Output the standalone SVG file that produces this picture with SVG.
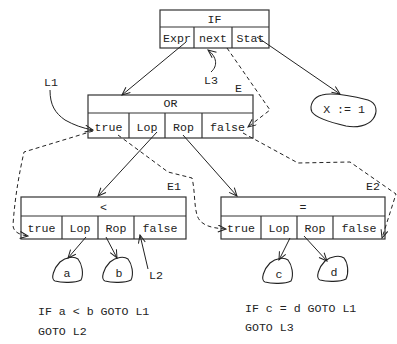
<svg xmlns="http://www.w3.org/2000/svg" width="397" height="344" viewBox="0 0 397 344">
<style>
.box{fill:#fff;stroke:#333;stroke-width:1.2}
.div{stroke:#333;stroke-width:1.2}
.t{font-family:"Liberation Mono","DejaVu Sans Mono",monospace;font-size:11.6px;fill:#222;text-anchor:middle}
.tl{font-family:"Liberation Mono","DejaVu Sans Mono",monospace;font-size:11.6px;fill:#222}
.ln{fill:none;stroke:#222;stroke-width:1}
.ds{fill:none;stroke:#222;stroke-width:1;stroke-dasharray:4 3}
.blob{fill:none;stroke:#222;stroke-width:1.1}
</style>
<defs>
<marker id="ah" markerWidth="10" markerHeight="10" refX="9" refY="4" orient="auto" markerUnits="userSpaceOnUse">
<path d="M1,0.5 L9,4 L1,7.5" fill="none" stroke="#222" stroke-width="1"/>
</marker>
</defs>

<g id="node-if">
<rect class="box" x="160" y="10" width="109" height="38"/>
<line class="div" x1="160" y1="27" x2="269" y2="27"/>
<line class="div" x1="194" y1="27" x2="194" y2="48"/>
<line class="div" x1="232" y1="27" x2="232" y2="48"/>
<text class="t" x="214.5" y="22.5">IF</text>
<text class="t" x="177" y="42">Expr</text>
<text class="t" x="213" y="42">next</text>
<text class="t" x="250.5" y="42">Stat</text>
</g>

<g id="node-or">
<rect class="box" x="88" y="95" width="165" height="43"/>
<line class="div" x1="88" y1="113" x2="253" y2="113"/>
<line class="div" x1="129" y1="113" x2="129" y2="138"/>
<line class="div" x1="165" y1="113" x2="165" y2="138"/>
<line class="div" x1="202" y1="113" x2="202" y2="138"/>
<text class="t" x="170.5" y="107">OR</text>
<text class="t" x="108.5" y="130.5">true</text>
<text class="t" x="147" y="130.5">Lop</text>
<text class="t" x="183.5" y="130.5">Rop</text>
<text class="t" x="227.5" y="130.5">false</text>
<text class="t" x="238.5" y="92">E</text>
</g>

<g id="node-lt">
<rect class="box" x="21" y="197" width="165" height="42"/>
<line class="div" x1="21" y1="216" x2="186" y2="216"/>
<line class="div" x1="62" y1="216" x2="62" y2="239"/>
<line class="div" x1="98" y1="216" x2="98" y2="239"/>
<line class="div" x1="134" y1="216" x2="134" y2="239"/>
<text class="t" x="103.5" y="210.5">&lt;</text>
<text class="t" x="41.5" y="231.5">true</text>
<text class="t" x="80" y="231.5">Lop</text>
<text class="t" x="116" y="231.5">Rop</text>
<text class="t" x="160" y="231.5">false</text>
<text class="t" x="174" y="190">E1</text>
</g>

<g id="node-eq">
<rect class="box" x="221" y="197" width="164" height="42"/>
<line class="div" x1="221" y1="216" x2="385" y2="216"/>
<line class="div" x1="261" y1="216" x2="261" y2="239"/>
<line class="div" x1="297" y1="216" x2="297" y2="239"/>
<line class="div" x1="333" y1="216" x2="333" y2="239"/>
<text class="t" x="303" y="210.5">=</text>
<text class="t" x="241" y="231.5">true</text>
<text class="t" x="279" y="231.5">Lop</text>
<text class="t" x="315" y="231.5">Rop</text>
<text class="t" x="359" y="231.5">false</text>
<text class="t" x="373" y="190">E2</text>
</g>

<g id="node-x">
<path class="blob" d="M322,95 C333,92 352,96 368,100 C377,103 378,112 373,119 C368,126 356,128 346,126 C333,123 316,118 312,112 C309,106 313,97 322,95 Z"/>
<text class="t" x="344" y="113">X := 1</text>
</g>

<g id="node-a">
<path class="blob" d="M60,262 C66,257 74,256 78,259 C82,264 84,274 81,280 C75,283 62,283 55,281 C50,279 54,268 60,262 Z"/>
<text class="t" x="67" y="277">a</text>
</g>
<g id="node-b">
<path class="blob" d="M110,262 C116,257 124,256 128,259 C132,264 134,274 131,280 C125,283 112,283 105,281 C100,279 104,268 110,262 Z"/>
<text class="t" x="119" y="277">b</text>
</g>
<g id="node-c">
<path class="blob" d="M270,263 C276,258 284,257 288,260 C292,265 294,275 291,281 C285,284 272,284 265,282 C260,280 264,269 270,263 Z"/>
<text class="t" x="279" y="278">c</text>
</g>
<g id="node-d">
<path class="blob" d="M325,261 C331,256 340,255 344,258 C348,263 349,273 346,279 C340,282 327,282 320,280 C315,278 319,267 325,261 Z"/>
<text class="t" x="334" y="276">d</text>
</g>

<g id="labels">
<text class="t" x="51" y="86">L1</text>
<text class="t" x="211" y="84">L3</text>
<text class="t" x="156" y="279">L2</text>
<text class="tl" x="38" y="315">IF a &lt; b GOTO L1</text>
<text class="tl" x="38" y="335">GOTO L2</text>
<text class="tl" x="245" y="312">IF c = d GOTO L1</text>
<text class="tl" x="245" y="331">GOTO L3</text>
</g>

<g id="connectors">
<line class="ln" x1="186" y1="42" x2="122" y2="95" marker-end="url(#ah)"/>
<line class="ln" x1="257" y1="37" x2="340" y2="94" marker-end="url(#ah)"/>
<line class="ln" x1="157" y1="132" x2="98" y2="196" marker-end="url(#ah)"/>
<line class="ln" x1="183" y1="135" x2="237" y2="196" marker-end="url(#ah)"/>
<line class="ln" x1="86" y1="237" x2="68" y2="258" marker-end="url(#ah)"/>
<line class="ln" x1="106" y1="237" x2="117" y2="258" marker-end="url(#ah)"/>
<line class="ln" x1="290" y1="238" x2="279" y2="260" marker-end="url(#ah)"/>
<line class="ln" x1="304" y1="236" x2="327" y2="261" marker-end="url(#ah)"/>
<line class="ln" x1="148" y1="269" x2="140" y2="235" marker-end="url(#ah)"/>
<path class="ln" d="M211,72 C218,66 217,57 208,50" marker-end="url(#ah)"/>
<path class="ln" d="M50,90 C50,105 55,113 65,120 C74,125 82,128 93,130" marker-end="url(#ah)"/>
<path class="ds" d="M93,131 L24,152 C20,170 15,195 13,225 C13,232 20,235 28,236" marker-end="url(#ah)"/>
<path class="ds" d="M118,135 L168,172 L192,178 C195,190 194,205 197,215 C200,225 210,228 226,229" marker-end="url(#ah)"/>
<path class="ds" d="M227,48 L270,110 L248,127" marker-end="url(#ah)"/>
<path class="ds" d="M243,133 L298,163 L350,162 L396,194 L382,238" marker-end="url(#ah)"/>
</g>
</svg>
